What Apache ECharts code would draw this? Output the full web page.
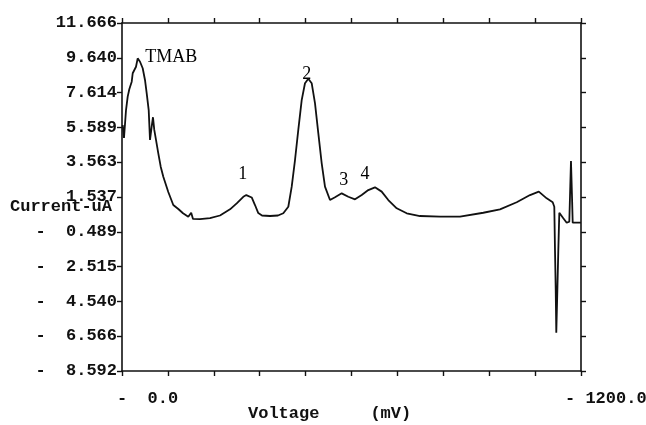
<!DOCTYPE html>
<html><head><meta charset="utf-8">
<script src="https://cdn.jsdelivr.net/npm/echarts@6/dist/echarts.min.js"></script>
<style>html,body{margin:0;padding:0;background:#fff}#c{width:646px;height:425px}</style>
</head><body><div id="c"></div>
<script>
// Voltage (−mV magnitude) and current (uA)
const voltage = [1.8,5.2,10.5,14.9,19.1,25.4,28.0,32.2,36.6,41.0,47.1,54.1,60.1,64.6,69.8,73.2,77.6,81.0,84.4,88.9,94.9,101.2,108.0,121.0,134.1,147.2,159.5,173.3,180.9,185.6,203.9,230.1,256.2,282.4,299.9,317.1,325.0,339.1,347.7,356.3,366.0,386.9,407.8,421.7,434.8,443.7,452.3,460.9,469.8,478.4,487.1,495.9,504.6,513.2,522.1,530.7,543.8,556.9,574.4,591.6,609.2,626.7,643.9,661.4,678.9,696.2,718.2,744.3,779.1,831.4,883.7,944.6,988.2,1031.9,1066.7,1089.7,1110.3,1126.0,1130.2,1132.0,1133.9,1135.4,1138.0,1140.7,1143.3,1153.7,1162.6,1169.4,1171.2,1173.8,1176.5,1178.3,1200];
const current = [5.73,4.97,6.60,7.38,7.81,8.25,8.74,8.64,9.12,9.61,9.41,9.03,8.35,7.57,6.60,4.86,5.63,6.18,5.44,4.86,4.08,3.30,2.72,1.83,1.07,0.84,0.59,0.39,0.62,0.26,0.25,0.31,0.46,0.82,1.17,1.55,1.65,1.51,1.07,0.60,0.46,0.43,0.46,0.59,0.97,2.14,3.69,5.44,7.18,8.16,8.42,8.16,6.99,5.25,3.50,2.14,1.36,1.52,1.75,1.55,1.40,1.65,1.94,2.10,1.85,1.36,0.88,0.59,0.43,0.39,0.40,0.62,0.82,1.23,1.65,1.85,1.46,1.23,0.97,-1.55,-3.88,-6.36,-4.07,-1.55,0.62,0.30,0.04,0.10,1.55,3.63,1.55,0.04,0.04];

const yTickValues = [11.666, 9.640, 7.614, 5.589, 3.563, 1.537, -0.489, -2.515, -4.540, -6.566, -8.592];
const yTickLabels = ['11.666','9.640','7.614','5.589','3.563','1.537','-  0.489','-  2.515','-  4.540','-  6.566','-  8.592'];
const xTickValues = [0, 1200];
const xTickLabels = ['-  0.0', '- 1200.0'];

const annLabels = ['TMAB','1','2','3','4'];
const annX = [129, 316, 483, 580, 635];
const annY = [9.67, 2.88, 8.70, 2.53, 2.88];

const xName = 'Voltage     (mV)';
const yName = 'Current-uA';

const INK = '#111';
const MONO = {fontFamily:'Liberation Mono', fontWeight:'bold', fontSize:17, color:INK};

const chart = echarts.init(document.getElementById('c'), null, {renderer:'canvas'});
const yMin = yTickValues[yTickValues.length-1], yMax = yTickValues[0];
const axisLine = {show:true, onZero:false, lineStyle:{color:INK, width:1.6}};
const tick = {show:true, inside:false, length:5, lineStyle:{color:INK, width:1.4}};

chart.setOption({
  animation:false,
  backgroundColor:'#fff',
  grid:{left:122, right:65, top:23, bottom:54},
  xAxis:[
    {type:'value', position:'bottom', min:0, max:1200, interval:120,
     axisLine, axisTick:tick, axisLabel:{show:false}, splitLine:{show:false}},
    {type:'value', position:'top', min:0, max:1200, interval:120,
     axisLine, axisTick:tick, axisLabel:{show:false}, splitLine:{show:false}}
  ],
  yAxis:[
    {type:'value', position:'left', min:yMin, max:yMax,
     axisLine, axisTick:Object.assign({}, tick, {customValues:yTickValues}),
     axisLabel:{show:true, margin:5, customValues:yTickValues, ...MONO,
       formatter:(v)=>{let bi=0,bd=1e9;yTickValues.forEach((t,i)=>{const d=Math.abs(t-v);if(d<bd){bd=d;bi=i;}});return yTickLabels[bi];}},
     splitLine:{show:false}},
    {type:'value', position:'right', min:yMin, max:yMax,
     axisLine, axisTick:Object.assign({}, tick, {customValues:yTickValues}),
     axisLabel:{show:false}, splitLine:{show:false}}
  ],
  series:[
    {type:'line', xAxisIndex:0, yAxisIndex:0, showSymbol:false, symbol:'none',
     data:voltage.map((v,i)=>[v,current[i]]),
     lineStyle:{color:INK, width:1.8}, z:3},
    {type:'scatter', xAxisIndex:0, yAxisIndex:0, symbolSize:0,
     data:annX.map((v,i)=>[v,annY[i]]),
     itemStyle:{opacity:1},
     label:{show:true, position:'inside', formatter:(p)=>annLabels[p.dataIndex],
       fontFamily:'Liberation Serif', fontSize:18, color:'#000', opacity:1}}
  ]
});

const xOff = [-5, -16];
const graphics = xTickValues.map((v,i)=>{
  const px = chart.convertToPixel({xAxisIndex:0}, v);
  return {type:'text', left:px + xOff[i], top:390, style:{text:xTickLabels[i], font:'bold 17px "Liberation Mono"', fill:INK}};
});
graphics.push({type:'text', left:248, top:405, style:{text:xName, font:'bold 17px "Liberation Mono"', fill:INK}});
graphics.push({type:'text', left:10, top:198, style:{text:yName, font:'bold 17px "Liberation Mono"', fill:INK}});
chart.setOption({graphic:graphics});
</script>
</body></html>
